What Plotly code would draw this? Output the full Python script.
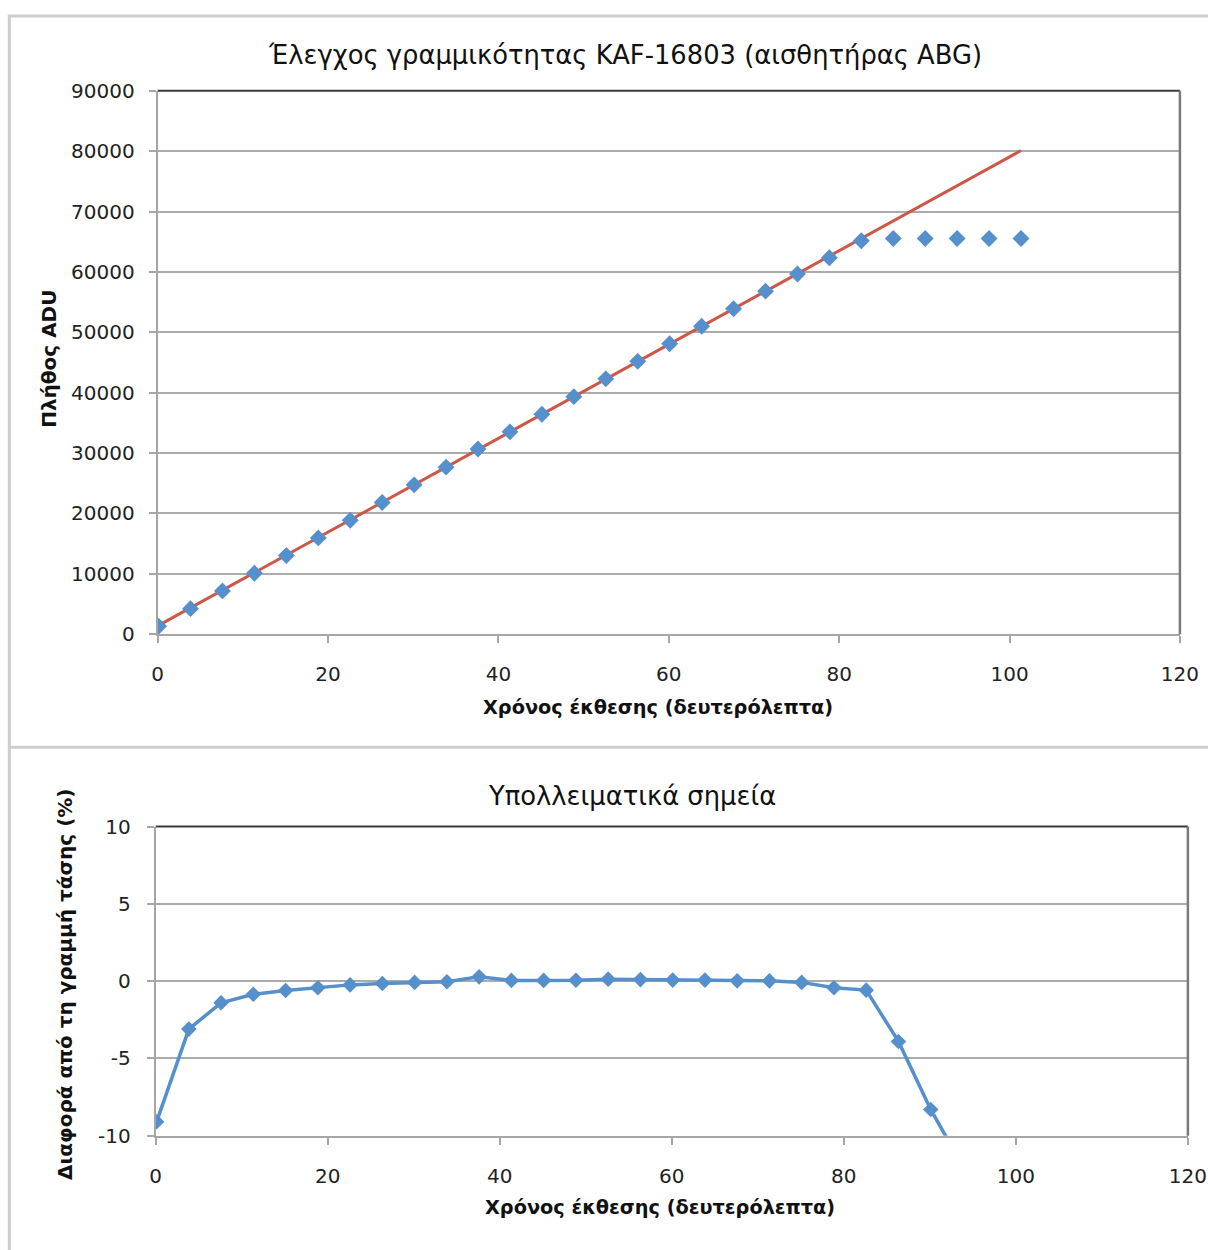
import plotly.graph_objects as go

# ---- data ----
exposure_s = [0.1, 3.85, 7.6, 11.35, 15.1, 18.85, 22.6, 26.35, 30.1, 33.85, 37.6, 41.35,
              45.1, 48.85, 52.6, 56.35, 60.1, 63.85, 67.6, 71.35, 75.1, 78.85, 82.6,
              86.35, 90.1, 93.85, 97.6, 101.35]
adu_counts = [1320, 4230, 7170, 10100, 13020, 15950, 18880, 21810, 24730, 27660, 30670, 33510,
              36420, 39340, 42290, 45190, 48090, 51010, 53890, 56810, 59660, 62350, 65150,
              65535, 65535, 65535, 65535, 65535]
trend_x = [0.1, 101.35]
trend_y = [1450, 80100]
residual_pct = [-9.1, -3.1, -1.4, -0.85, -0.6, -0.43, -0.24, -0.15, -0.08, -0.04, 0.28, 0.05,
                0.05, 0.06, 0.13, 0.1, 0.07, 0.07, 0.02, 0.02, -0.08, -0.43, -0.58,
                -3.9, -8.3, -12.0, -15.2, -18.0]

top_title = "Έλεγχος γραμμικότητας KAF-16803 (αισθητήρας ABG)"
bottom_title = "Υπολλειματικά σημεία"
x_title = "Χρόνος έκθεσης (δευτερόλεπτα)"
y_title_top = "Πλήθος ADU"
y_title_bottom = "Διαφορά από τη γραμμή τάσης (%)"
x_ticks = [0, 20, 40, 60, 80, 100, 120]
y_ticks_top = [0, 10000, 20000, 30000, 40000, 50000, 60000, 70000, 80000, 90000]
y_ticks_bottom = [-10, -5, 0, 5, 10]
y_tick_labels_bottom = ["-10", "-5", "0", "5", "10"]

W, H = 1232, 1272
BLUE = "#5590CC"
RED = "#CD5849"
GRID = "#ABABAB"
TICKFONT = dict(family="DejaVu Sans", size=20, color="#222222")
TITLEFONT = "DejaVu Sans"


def px_x(p):
    return ((p - 5.15) / 0.9805) / W


def px_y(p):
    return 1 - ((p - 10.0) / 0.984) / H


fig = go.Figure()

fig.add_trace(go.Scatter(x=trend_x, y=trend_y, mode="lines",
                         line=dict(color=RED, width=3), xaxis="x", yaxis="y",
                         showlegend=False, hoverinfo="skip"))
fig.add_trace(go.Scatter(x=exposure_s, y=adu_counts, mode="markers",
                         marker=dict(symbol="diamond", size=13, color=BLUE),
                         xaxis="x", yaxis="y", showlegend=False))
fig.add_trace(go.Scatter(x=exposure_s, y=residual_pct, mode="lines+markers",
                         line=dict(color=BLUE, width=3.5),
                         marker=dict(symbol="diamond", size=12, color=BLUE),
                         xaxis="x2", yaxis="y2", showlegend=False))

axis_common = dict(zeroline=False, showline=True, linecolor="#A6A6A6",
                   linewidth=2, ticks="outside", ticklen=7, tickcolor="#A6A6A6",
                   tickwidth=2, tickfont=TICKFONT, fixedrange=True)

fig.update_layout(
    width=W, height=H,
    margin=dict(l=0, r=0, t=0, b=0),
    paper_bgcolor="white", plot_bgcolor="white",
    xaxis=dict(**axis_common, showgrid=False, domain=[px_x(157), px_x(1180)], range=[0, 120],
               tickvals=x_ticks, ticklabelstandoff=14, anchor="y"),
    yaxis=dict(**axis_common, showgrid=True, gridcolor=GRID, gridwidth=2,
               domain=[px_y(634), px_y(89)], range=[0, 90000],
               tickvals=y_ticks_top, tickformat="d", ticklabelstandoff=10, anchor="x"),
    xaxis2=dict(**axis_common, showgrid=False, domain=[px_x(155), px_x(1188)], range=[0, 120],
                tickvals=x_ticks, ticklabelstandoff=14, anchor="y2"),
    yaxis2=dict(**axis_common, showgrid=True, gridcolor=GRID, gridwidth=2,
                domain=[px_y(1137), px_y(827)], range=[-10, 10],
                tickvals=y_ticks_bottom, ticktext=y_tick_labels_bottom,
                ticklabelstandoff=12, anchor="x2"),
)

shapes = []
frame = "#CDCDCD"
shapes.append(dict(type="line", xref="paper", yref="paper", x0=px_x(7), x1=1,
                   y0=px_y(14), y1=px_y(14), line=dict(color=frame, width=3)))
shapes.append(dict(type="line", xref="paper", yref="paper", x0=px_x(8.5), x1=px_x(8.5),
                   y0=px_y(13), y1=0, line=dict(color=frame, width=3)))
shapes.append(dict(type="line", xref="paper", yref="paper", x0=px_x(7), x1=1,
                   y0=px_y(747.5), y1=px_y(747.5), line=dict(color=frame, width=3)))
for xa, ya in (("x", "y"), ("x2", "y2")):
    shapes.append(dict(type="line", xref=f"{xa} domain", yref=f"{ya} domain",
                       x0=0, x1=1, y0=1, y1=1, line=dict(color="#3A3A3A", width=2)))
    shapes.append(dict(type="line", xref=f"{xa} domain", yref=f"{ya} domain",
                       x0=1, x1=1, y0=0, y1=1, line=dict(color="#7A7A7A", width=2.5)))
fig.update_layout(shapes=shapes)

annotations = [
    dict(text=top_title, x=px_x(625), y=px_y(53), font=dict(family=TITLEFONT, size=25.8, color="#111111")),
    dict(text=bottom_title, x=px_x(632), y=px_y(796), font=dict(family=TITLEFONT, size=25.8, color="#111111")),
    dict(text=f"<b>{x_title}</b>", x=px_x(658), y=px_y(708), font=dict(family=TITLEFONT, size=19.3, color="#111111")),
    dict(text=f"<b>{x_title}</b>", x=px_x(660), y=px_y(1209), font=dict(family=TITLEFONT, size=19.3, color="#111111")),
    dict(text=f"<b>{y_title_top}</b>", x=px_x(48), y=px_y(358), textangle=-90,
         font=dict(family=TITLEFONT, size=20, color="#111111")),
    dict(text=f"<b>{y_title_bottom}</b>", x=px_x(64), y=px_y(985), textangle=-90,
         font=dict(family=TITLEFONT, size=20, color="#111111")),
]
for a in annotations:
    a.update(xref="paper", yref="paper", showarrow=False, xanchor="center", yanchor="middle")
fig.update_layout(annotations=annotations)

fig.write_html("out.html", config={"displayModeBar": False},
               post_script="document.body.style.margin='0';document.body.style.overflow='hidden';")
